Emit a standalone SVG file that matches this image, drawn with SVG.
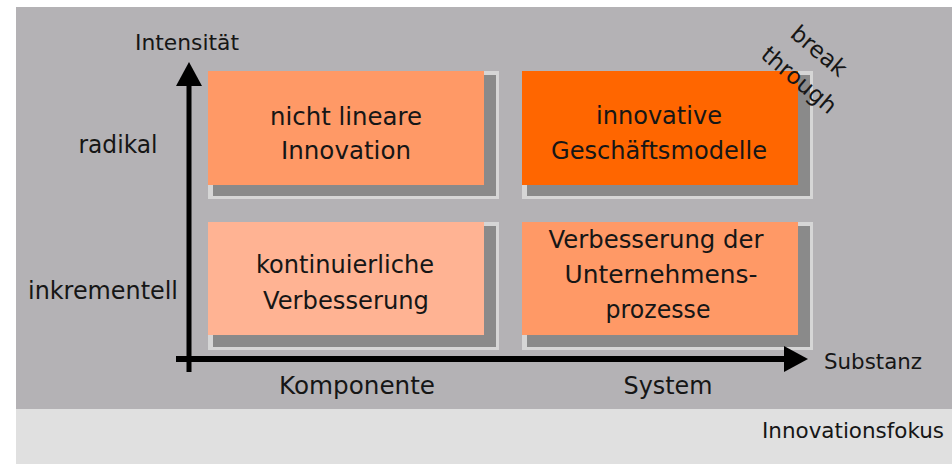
<svg xmlns="http://www.w3.org/2000/svg" width="952" height="464" viewBox="0 0 952 464">
  <style>
    .t { font-family: "DejaVu Sans", "Liberation Sans", sans-serif; fill: #161616; text-anchor: middle; }
    .b { font-size: 25px; }
    .s { font-size: 22px; }
    .sh1 { fill: #d6d6d6; }
    .sh2 { fill: #8a8a8a; }
    .axis { stroke: #000; fill: none; }
  </style>
  <defs>
    <marker id="arr" markerUnits="userSpaceOnUse" markerWidth="24" markerHeight="26" refX="0" refY="13" orient="auto">
      <path d="M0,0 L24,13 L0,26 z" fill="#000"/>
    </marker>
  </defs>

  <rect x="0" y="0" width="952" height="464" fill="#ffffff"/>
  <rect x="16" y="7" width="936" height="402" fill="#b4b2b5"/>
  <rect x="16" y="409" width="936" height="55" fill="#e0e0e0"/>

  <g id="node-nicht-lineare">
    <rect class="sh1" x="208" y="71" width="291" height="128"/>
    <rect class="sh2" x="213" y="75" width="283" height="121"/>
    <rect x="208" y="71" width="276" height="114" fill="#ff9966"/>
    <text class="t b" x="346" y="125" textLength="152" lengthAdjust="spacingAndGlyphs">nicht lineare</text>
    <text class="t b" x="346" y="159" textLength="130" lengthAdjust="spacingAndGlyphs">Innovation</text>
  </g>

  <g id="node-innovative">
    <rect class="sh1" x="522" y="71" width="291" height="128"/>
    <rect class="sh2" x="527" y="75" width="283" height="121"/>
    <rect x="522" y="71" width="276" height="114" fill="#ff6600"/>
    <text class="t b" x="659" y="124" textLength="126" lengthAdjust="spacingAndGlyphs">innovative</text>
    <text class="t b" x="659" y="159" textLength="216" lengthAdjust="spacingAndGlyphs">Geschäftsmodelle</text>
  </g>

  <g id="node-kontinuierliche">
    <rect class="sh1" x="208" y="222" width="291" height="128"/>
    <rect class="sh2" x="213" y="226" width="283" height="121"/>
    <rect x="208" y="222" width="276" height="113" fill="#ffb393"/>
    <text class="t b" x="345" y="273" textLength="178" lengthAdjust="spacingAndGlyphs">kontinuierliche</text>
    <text class="t b" x="346" y="309" textLength="166" lengthAdjust="spacingAndGlyphs">Verbesserung</text>
  </g>

  <g id="node-verbesserung">
    <rect class="sh1" x="522" y="222" width="291" height="128"/>
    <rect class="sh2" x="527" y="226" width="283" height="121"/>
    <rect x="522" y="222" width="276" height="113" fill="#ff9966"/>
    <text class="t b" x="656" y="248" textLength="215" lengthAdjust="spacingAndGlyphs">Verbesserung der</text>
    <text class="t b" x="661" y="283" textLength="193" lengthAdjust="spacingAndGlyphs">Unternehmens-</text>
    <text class="t b" x="658" y="318" textLength="105" lengthAdjust="spacingAndGlyphs">prozesse</text>
  </g>

  <g id="connectors">
    <line class="axis" x1="189" y1="372" x2="189" y2="86" stroke-width="5" marker-end="url(#arr)"/>
    <line class="axis" x1="176" y1="359" x2="784" y2="359" stroke-width="6" marker-end="url(#arr)"/>
  </g>

  <g id="labels">
    <text class="t s" x="187" y="50" textLength="104" lengthAdjust="spacingAndGlyphs">Intensität</text>
    <text class="t b" x="118" y="153" textLength="79" lengthAdjust="spacingAndGlyphs">radikal</text>
    <text class="t b" x="103" y="299" textLength="150" lengthAdjust="spacingAndGlyphs">inkrementell</text>
    <text class="t b" x="357" y="394" textLength="156" lengthAdjust="spacingAndGlyphs">Komponente</text>
    <text class="t b" x="668" y="394" textLength="89" lengthAdjust="spacingAndGlyphs">System</text>
    <text class="t s" x="873" y="369" textLength="98" lengthAdjust="spacingAndGlyphs">Substanz</text>
    <text class="t s" x="853" y="438" textLength="182" lengthAdjust="spacingAndGlyphs">Innovationsfokus</text>
    <text class="t" font-size="23" x="814" y="57" transform="rotate(40 814 57)">break</text>
    <text class="t" font-size="23" x="794" y="86" transform="rotate(40 794 86)">through</text>
  </g>
</svg>
